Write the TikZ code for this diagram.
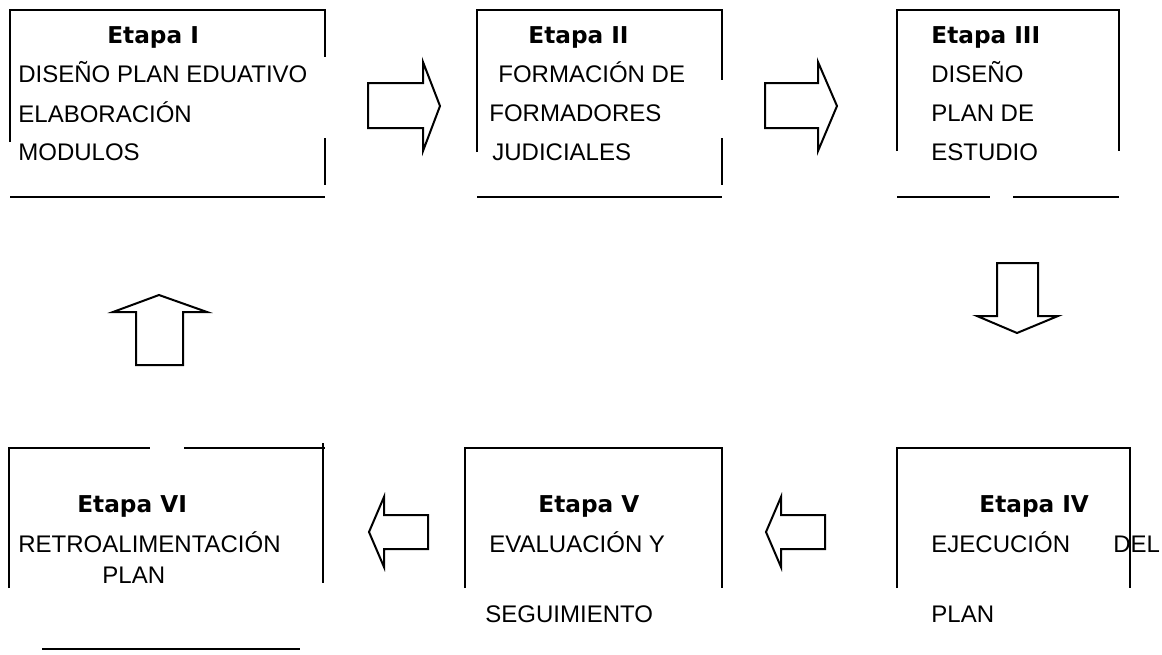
\documentclass[tikz,border=0pt]{standalone}
\usepackage{fontspec}
\setmainfont{Liberation Sans}
\newfontfamily\etapafont{DejaVu Sans}
\tikzset{
    % Lines
    frame line/.style={line width=1.1pt},
    block arrow/.style={line width=1pt,line join=miter},
    %
    % Texts
    stage title/.style={anchor=base west,inner sep=0pt,font=\etapafont\bfseries\fontsize{11.6}{13}\selectfont},
    stage text/.style={anchor=base west,inner sep=0pt,font=\fontsize{12}{14}\selectfont}
}

\begin{document}
\begin{tikzpicture}[x=0.5pt,y=-0.5pt]
        \useasboundingbox (0,0) rectangle (1162,654);
        % Etapa I
        \draw[frame line] (10,142) -- (10,10) -- (325,10) -- (325,57);
        \draw[frame line] (325,138) -- (325,185);
        \draw[frame line] (10,197) -- (325,197);
        \node[stage title] (etapa1) at (107,43) {Etapa I};
        \node[stage text] (etapa1a) at (18,82) {DISEÑO PLAN EDUATIVO};
        \node[stage text] (etapa1b) at (18,122) {ELABORACIÓN};
        \node[stage text] (etapa1c) at (18,160) {MODULOS};
        % Etapa II
        \draw[frame line] (477,152) -- (477,10) -- (722,10) -- (722,80);
        \draw[frame line] (722,138) -- (722,185);
        \draw[frame line] (477,197) -- (722,197);
        \node[stage title] (etapa2) at (528,43) {Etapa II};
        \node[stage text] (etapa2a) at (498,82) {FORMACIÓN DE};
        \node[stage text] (etapa2b) at (489,121) {FORMADORES};
        \node[stage text] (etapa2c) at (492,160) {JUDICIALES};
        % Etapa III
        \draw[frame line] (897,151) -- (897,10) -- (1119,10) -- (1119,151);
        \draw[frame line] (897,197) -- (990,197);
        \draw[frame line] (1013,197) -- (1119,197);
        \node[stage title] (etapa3) at (931,43) {Etapa III};
        \node[stage text] (etapa3a) at (931,82) {DISEÑO};
        \node[stage text] (etapa3b) at (931,121) {PLAN DE};
        \node[stage text] (etapa3c) at (931,160) {ESTUDIO};
        % Etapa IV
        \draw[frame line] (897,588) -- (897,448) -- (1130,448) -- (1130,588);
        \node[stage title] (etapa4) at (979,512) {Etapa IV};
        \node[stage text] (etapa4a) at (931,552) {EJECUCIÓN};
        \node[stage text] (etapa4b) at (1113,552) {DEL};
        \node[stage text] (etapa4c) at (931,622) {PLAN};
        % Etapa V
        \draw[frame line] (465,588) -- (465,448) -- (722,448) -- (722,588);
        \node[stage title] (etapa5) at (538,512) {Etapa V};
        \node[stage text] (etapa5a) at (489,552) {EVALUACIÓN Y};
        \node[stage text] (etapa5b) at (485,622) {SEGUIMIENTO};
        % Etapa VI
        \draw[frame line] (9,588) -- (9,448) -- (150,448);
        \draw[frame line] (184,448) -- (325,448);
        \draw[frame line] (323,443) -- (323,583);
        \draw[frame line] (42,649) -- (300,649);
        \node[stage title] (etapa6) at (77,512) {Etapa VI};
        \node[stage text] (etapa6a) at (18,552) {RETROALIMENTACIÓN};
        \node[stage text] (etapa6b) at (102,583) {PLAN};
        % block arrows
        \draw[block arrow] (368,83) -- (423,83) -- (423,62) -- (440,106) -- (423,151) -- (423,128) -- (368,128) -- cycle;
        \draw[block arrow] (765,83) -- (818,83) -- (818,62) -- (837,106) -- (818,151) -- (818,128) -- (765,128) -- cycle;
        \draw[block arrow] (997,263) -- (1038,263) -- (1038,316) -- (1058,316) -- (1017,333) -- (977,316) -- (997,316) -- cycle;
        \draw[block arrow] (825,515) -- (781,515) -- (781,497) -- (766,532) -- (781,567) -- (781,549) -- (825,549) -- cycle;
        \draw[block arrow] (428,515) -- (384,515) -- (384,497) -- (369,532) -- (384,567) -- (384,549) -- (428,549) -- cycle;
        \draw[block arrow] (136,365) -- (136,312) -- (113,312) -- (159,295) -- (207,312) -- (183,312) -- (183,365) -- cycle;
\end{tikzpicture}
\end{document}
